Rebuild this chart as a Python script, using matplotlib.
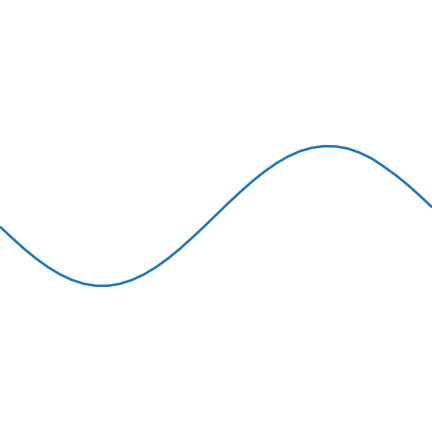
import matplotlib
matplotlib.use("Agg")
import matplotlib.pyplot as plt

x_vals = [0, 12, 24, 36, 48, 60, 72, 84, 96, 108, 120, 132, 144, 156, 168, 180,
          192, 204, 216, 228, 240, 252, 264, 276, 288, 300, 312, 324, 336, 348,
          360, 372, 384, 396, 408, 420, 432]
y_vals = [-0.152, -0.313, -0.467, -0.607, -0.731, -0.834, -0.914, -0.969, -0.997,
          -0.997, -0.969, -0.914, -0.834, -0.731, -0.608, -0.467, -0.313, -0.152,
          0.014, 0.180, 0.340, 0.492, 0.629, 0.750, 0.850, 0.926, 0.975, 0.998,
          0.994, 0.963, 0.903, 0.819, 0.705, 0.581, 0.441, 0.288, 0.125]

fig = plt.figure(figsize=(6, 6), dpi=72)
ax = fig.add_axes([0, 0, 1, 1])
ax.plot(x_vals, y_vals, color="#1f77b4", linewidth=2.5, solid_capstyle="butt")
ax.set_xlim(0, 432)
ax.set_ylim(-3.086, 3.086)
ax.axis("off")
fig.savefig("out.png", dpi=72, facecolor="white")
